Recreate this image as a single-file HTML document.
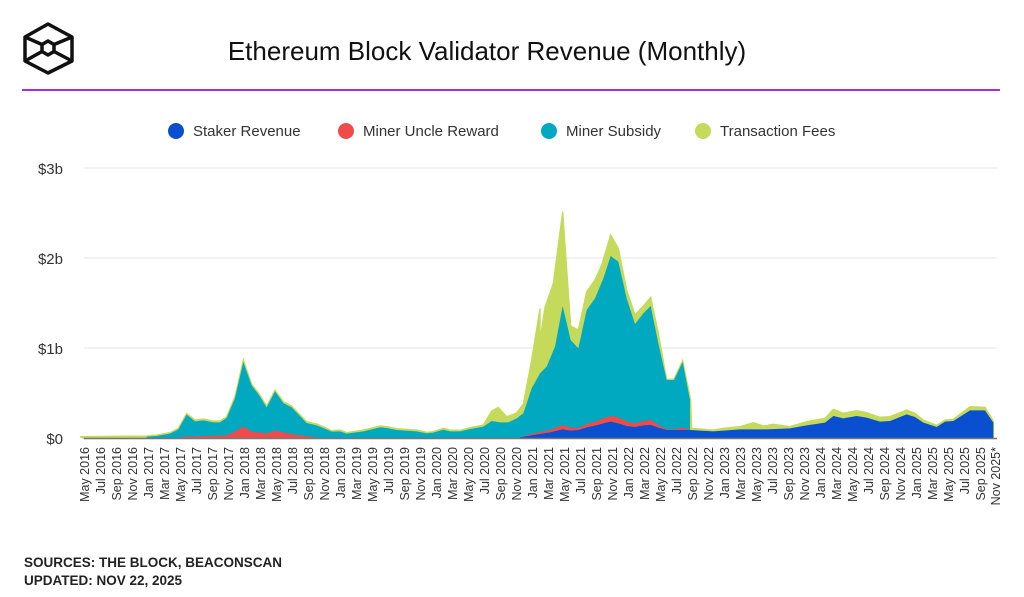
<!DOCTYPE html>
<html><head><meta charset="utf-8"><style>
body{margin:0;width:1024px;height:597px;background:#fff;font-family:"Liberation Sans",sans-serif;overflow:hidden;position:relative}
</style></head><body>
<svg width="1024" height="597" style="position:absolute;left:0;top:0">
<g fill="none" stroke="#111" stroke-width="3.5" stroke-linejoin="round">
<polygon points="48,24 72,37 72,61 48,73 25,61 25,37"/>
<polygon points="48,41 54,44.5 54,51.5 48,55 42,51.5 42,44.5"/>
<line x1="25" y1="37" x2="42" y2="44.5"/><line x1="72" y1="37" x2="54" y2="44.5"/>
<line x1="25" y1="61" x2="42" y2="51.5"/><line x1="72" y1="61" x2="54" y2="51.5"/>
</g>
<text x="487" y="60" font-size="26" text-anchor="middle" fill="#111" font-family="Liberation Sans">Ethereum Block Validator Revenue (Monthly)</text>
<line x1="22" y1="90" x2="1000" y2="90" stroke="#a030e0" stroke-width="2"/>
<g font-size="15" fill="#333" font-family="Liberation Sans">
<circle cx="176" cy="131" r="8" fill="#0a4fcf"/><text x="193" y="136">Staker Revenue</text>
<circle cx="346" cy="131" r="8" fill="#f04b4b"/><text x="363" y="136">Miner Uncle Reward</text>
<circle cx="549" cy="131" r="8" fill="#00a8c0"/><text x="566" y="136">Miner Subsidy</text>
<circle cx="703" cy="131" r="8" fill="#c5da5a"/><text x="720" y="136">Transaction Fees</text>
</g>
<g stroke="#e6e6e6" stroke-width="1"><line x1="84" y1="168" x2="997" y2="168"/><line x1="84" y1="258" x2="997" y2="258"/><line x1="84" y1="348" x2="997" y2="348"/></g>
<g font-size="15" fill="#333" text-anchor="end" font-family="Liberation Sans">
<text x="63" y="174">$3b</text><text x="63" y="264">$2b</text><text x="63" y="354">$1b</text><text x="63" y="444">$0</text></g>
<g transform="translate(80,200) scale(0.33333)" fill="#c5da5a" stroke="#c5da5a" stroke-width="4">
<polygon points="12,715 0,710 200,708 230,705 270,698 295,685 320,640 345,660 370,657 400,663 420,663 440,650 465,590 490,480 515,553 535,578 560,618 585,570 610,605 635,618 680,665 710,672 730,680 755,692 780,690 800,698 850,690 900,678 920,680 950,686 1010,690 1040,697 1060,695 1090,685 1110,690 1140,691 1170,683 1210,675 1235,633 1255,622 1280,650 1300,643 1310,638 1330,612 1355,480 1380,325 1380,715"/>
</g>
<g transform="translate(500,200) scale(0.33333)" fill="#c5da5a" stroke="#c5da5a" stroke-width="4">
<polygon points="120,715 120,420 135,322 160,250 188,35 212,378 235,390 260,275 285,240 305,195 332,105 355,145 380,270 405,345 430,318 452,292 475,400 500,538 522,538 548,482 572,600 575,685 640,690 670,685 720,680 760,668 790,678 820,673 870,680 920,665 975,655 1000,628 1030,640 1070,632 1100,638 1140,652 1170,650 1220,630 1245,640 1270,660 1310,676 1335,660 1360,658 1410,620 1455,622 1480,663 1480,715"/>
</g>
<g transform="translate(80,200) scale(0.33333)" fill="#00a8c0">
<polygon points="200,715 200,710 230,708 270,701 295,688 320,644 345,664 370,661 400,667 420,667 440,654 465,594 490,486 515,557 535,582 560,622 585,574 610,609 635,622 680,669 710,676 730,684 755,695 780,694 800,701 850,694 900,682 920,684 950,690 1010,694 1040,700 1060,698 1090,689 1110,694 1140,694 1170,687 1210,680 1235,663 1260,667 1285,667 1310,655 1330,640 1355,565 1380,520 1380,715"/>
</g>
<g transform="translate(500,200) scale(0.33333)" fill="#00a8c0">
<polygon points="120,715 120,520 140,500 165,440 188,318 212,420 235,445 260,330 285,295 310,235 332,168 355,185 380,295 405,372 430,340 452,318 475,430 500,540 522,540 548,486 570,600 570,715"/>
</g>
<g transform="translate(80,200) scale(0.33333)" fill="#f04b4b">
<polygon points="300,715 300,711 440,706 465,695 490,680 515,695 560,700 585,692 640,703 700,711 720,715"/>
</g>
<g transform="translate(500,200) scale(0.33333)" fill="#f04b4b">
<polygon points="60,715 60,712 100,700 150,690 188,675 212,683 235,684 260,672 285,665 310,655 332,648 355,652 380,665 405,670 430,663 452,660 475,675 500,688 522,688 548,683 570,690 570,715"/>
</g>
<g transform="translate(500,200) scale(0.33333)" fill="#0a4fcf">
<polygon points="60,715 60,712 100,705 150,697 188,688 212,692 235,690 260,682 285,677 310,670 332,665 355,670 380,678 405,681 430,676 452,675 475,683 500,690 570,690 640,694 720,688 800,688 870,685 920,676 975,668 1000,648 1030,655 1070,648 1100,653 1140,665 1170,663 1220,643 1245,651 1270,668 1310,681 1335,665 1360,663 1410,631 1455,631 1480,668 1480,715"/>
</g>
<line x1="84" y1="438.5" x2="997" y2="438.5" stroke="#777" stroke-width="1.5"/>
<g font-size="12.5" fill="#333" text-anchor="end" font-family="Liberation Sans">
<text transform="translate(89,447) rotate(-90)">May 2016</text>
<text transform="translate(105,447) rotate(-90)">Jul 2016</text>
<text transform="translate(121,447) rotate(-90)">Sep 2016</text>
<text transform="translate(137,447) rotate(-90)">Nov 2016</text>
<text transform="translate(153,447) rotate(-90)">Jan 2017</text>
<text transform="translate(169,447) rotate(-90)">Mar 2017</text>
<text transform="translate(185,447) rotate(-90)">May 2017</text>
<text transform="translate(201,447) rotate(-90)">Jul 2017</text>
<text transform="translate(217,447) rotate(-90)">Sep 2017</text>
<text transform="translate(233,447) rotate(-90)">Nov 2017</text>
<text transform="translate(249,447) rotate(-90)">Jan 2018</text>
<text transform="translate(265,447) rotate(-90)">Mar 2018</text>
<text transform="translate(281,447) rotate(-90)">May 2018</text>
<text transform="translate(297,447) rotate(-90)">Jul 2018</text>
<text transform="translate(313,447) rotate(-90)">Sep 2018</text>
<text transform="translate(329,447) rotate(-90)">Nov 2018</text>
<text transform="translate(345,447) rotate(-90)">Jan 2019</text>
<text transform="translate(361,447) rotate(-90)">Mar 2019</text>
<text transform="translate(377,447) rotate(-90)">May 2019</text>
<text transform="translate(393,447) rotate(-90)">Jul 2019</text>
<text transform="translate(409,447) rotate(-90)">Sep 2019</text>
<text transform="translate(425,447) rotate(-90)">Nov 2019</text>
<text transform="translate(441,447) rotate(-90)">Jan 2020</text>
<text transform="translate(457,447) rotate(-90)">Mar 2020</text>
<text transform="translate(473,447) rotate(-90)">May 2020</text>
<text transform="translate(489,447) rotate(-90)">Jul 2020</text>
<text transform="translate(505,447) rotate(-90)">Sep 2020</text>
<text transform="translate(521,447) rotate(-90)">Nov 2020</text>
<text transform="translate(537,447) rotate(-90)">Jan 2021</text>
<text transform="translate(553,447) rotate(-90)">Mar 2021</text>
<text transform="translate(569,447) rotate(-90)">May 2021</text>
<text transform="translate(585,447) rotate(-90)">Jul 2021</text>
<text transform="translate(601,447) rotate(-90)">Sep 2021</text>
<text transform="translate(617,447) rotate(-90)">Nov 2021</text>
<text transform="translate(633,447) rotate(-90)">Jan 2022</text>
<text transform="translate(649,447) rotate(-90)">Mar 2022</text>
<text transform="translate(665,447) rotate(-90)">May 2022</text>
<text transform="translate(681,447) rotate(-90)">Jul 2022</text>
<text transform="translate(697,447) rotate(-90)">Sep 2022</text>
<text transform="translate(713,447) rotate(-90)">Nov 2022</text>
<text transform="translate(729,447) rotate(-90)">Jan 2023</text>
<text transform="translate(745,447) rotate(-90)">Mar 2023</text>
<text transform="translate(761,447) rotate(-90)">May 2023</text>
<text transform="translate(777,447) rotate(-90)">Jul 2023</text>
<text transform="translate(793,447) rotate(-90)">Sep 2023</text>
<text transform="translate(809,447) rotate(-90)">Nov 2023</text>
<text transform="translate(825,447) rotate(-90)">Jan 2024</text>
<text transform="translate(841,447) rotate(-90)">Mar 2024</text>
<text transform="translate(857,447) rotate(-90)">May 2024</text>
<text transform="translate(873,447) rotate(-90)">Jul 2024</text>
<text transform="translate(889,447) rotate(-90)">Sep 2024</text>
<text transform="translate(905,447) rotate(-90)">Nov 2024</text>
<text transform="translate(921,447) rotate(-90)">Jan 2025</text>
<text transform="translate(937,447) rotate(-90)">Mar 2025</text>
<text transform="translate(953,447) rotate(-90)">May 2025</text>
<text transform="translate(969,447) rotate(-90)">Jul 2025</text>
<text transform="translate(985,447) rotate(-90)">Sep 2025</text>
<text transform="translate(1000,447) rotate(-90)">Nov 2025*</text>
</g>
<g font-size="13.5" font-weight="bold" fill="#222" font-family="Liberation Sans">
<text x="24" y="567">SOURCES: THE BLOCK, BEACONSCAN</text>
<text x="24" y="585">UPDATED: NOV 22, 2025</text></g>
</svg>
</body></html>
